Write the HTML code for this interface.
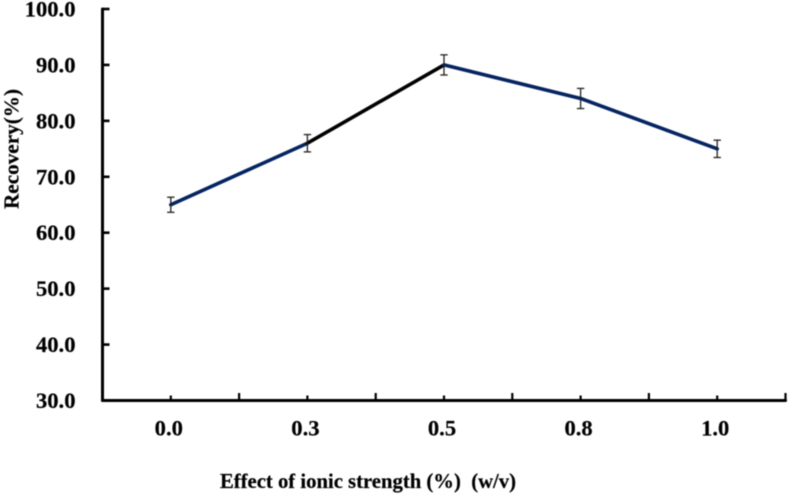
<!DOCTYPE html>
<html lang="en">
<head>
<meta charset="utf-8">
<title>Recovery vs ionic strength</title>
<style>
html,body{margin:0;padding:0;background:#fff;}
body{width:790px;height:495px;overflow:hidden;}
svg{display:block;filter:blur(0.45px);}
text{font-family:"Liberation Serif",serif;font-weight:bold;fill:#000;stroke:#000;stroke-width:0.2px;}
</style>
</head>
<body>
<svg id="chart" width="790" height="495" viewBox="0 0 790 495" xmlns="http://www.w3.org/2000/svg"></svg>
<script>
const categories = ['0.0', '0.3', '0.5', '0.8', '1.0'];
const recovery = [65, 76, 90, 84, 75];
const errors = [1.35, 1.55, 1.8, 1.8, 1.55];
const segmentColors = ['#052461', '#000000', '#052461', '#052461'];
const yTicks = [30, 40, 50, 60, 70, 80, 90, 100];
const yTickLabels = ['30.0', '40.0', '50.0', '60.0', '70.0', '80.0', '90.0', '100.0'];

const plotLeft = 102.5, plotRight = 785.5, plotTop = 9, plotBottom = 400.5;
const yMin = 30, yMax = 100;
const svg = document.getElementById('chart');
const NS = 'http://www.w3.org/2000/svg';

function yScale(v) {
  return plotBottom - (v - yMin) / (yMax - yMin) * (plotBottom - plotTop);
}
function bandWidth() {
  return (plotRight - plotLeft) / categories.length;
}
function xScale(i) {
  return plotLeft + bandWidth() * (i + 0.5);
}
function line(x1, y1, x2, y2, color, width, cap) {
  const el = document.createElementNS(NS, 'line');
  el.setAttribute('x1', x1);
  el.setAttribute('y1', y1);
  el.setAttribute('x2', x2);
  el.setAttribute('y2', y2);
  el.setAttribute('stroke', color);
  el.setAttribute('stroke-width', width);
  el.setAttribute('stroke-linecap', cap || 'butt');
  svg.appendChild(el);
  return el;
}
function label(x, y, str, anchor, size) {
  const el = document.createElementNS(NS, 'text');
  el.setAttribute('x', x);
  el.setAttribute('y', y);
  el.setAttribute('text-anchor', anchor);
  el.setAttribute('font-size', size);
  el.textContent = str;
  svg.appendChild(el);
  return el;
}

// axes
const yAxis = line(plotLeft, plotTop, plotLeft, plotBottom, '#000', 3, 'round');


const xAxis = line(plotLeft, plotBottom, plotRight, plotBottom, '#000', 3, 'round');



// y ticks and labels
yTicks.forEach(function (v, i) {
  const y = yScale(v);
  const t = line(plotLeft, y, plotLeft + 7, y, '#000', 2.6);
  
  
  const l = label(75.5, y + 7.5, yTickLabels[i], 'end', 22.6);
  
  
});

// x ticks and labels
categories.forEach(function (c, i) {
  const x = xScale(i);
  const minor = line(x, plotBottom, x, plotBottom - 5, '#000', 2.2);
  
  
  const bx = plotLeft + bandWidth() * (i + 1);
  const major = line(bx, plotBottom, bx, plotBottom - 7.5, '#000', 2.2);
  
  
  const l = label(x - 2, 435.5, c, 'middle', 22.6);
  
  
});

// data line segments
segmentColors.forEach(function (color, i) {
  const s = line(xScale(i), yScale(recovery[i]), xScale(i + 1), yScale(recovery[i + 1]), color, 3.6, 'round');
  
  
});

// error bars
recovery.forEach(function (v, i) {
  const x = xScale(i);
  const top = yScale(v + errors[i]);
  const bottom = yScale(v - errors[i]);
  const stem = line(x, top, x, bottom, '#222', 1.3);
  
  
  const capTop = line(x - 3.7, top, x + 3.7, top, '#222', 1.3);
  
  
  const capBottom = line(x - 3.7, bottom, x + 3.7, bottom, '#222', 1.3);
  
  
});
</script>
<svg style="position:absolute;left:0;top:0;" width="790" height="495" viewBox="0 0 790 495" xmlns="http://www.w3.org/2000/svg">
  <text x="-149" y="18.5" transform="rotate(-90)" text-anchor="middle" font-size="21.2">Recovery(%)</text>
  <text x="368" y="488" text-anchor="middle" font-size="20.7" xml:space="preserve">Effect of ionic strength (%)  (w/v)</text>
</svg>
</body>
</html>
